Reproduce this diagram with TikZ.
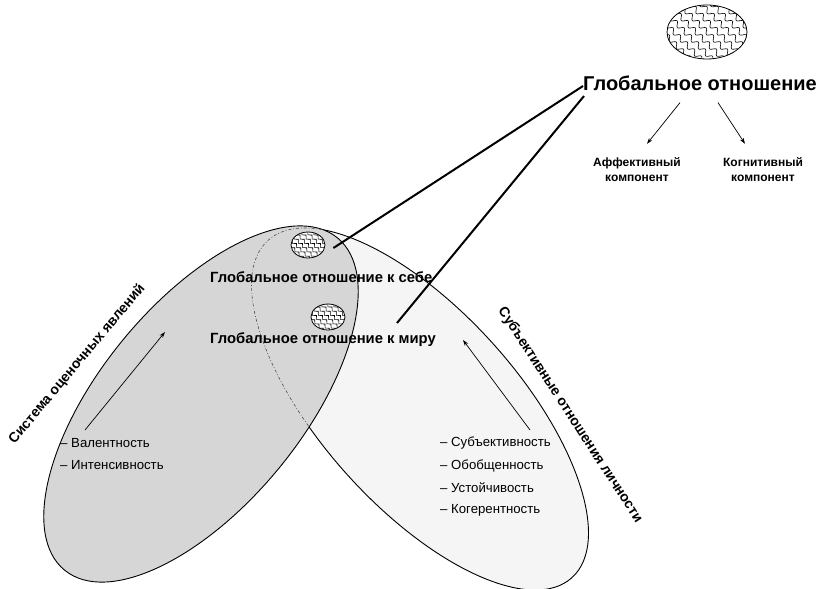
\documentclass[tikz,border=0pt]{standalone}
\usepackage{fontspec}
\setmainfont{Liberation Sans}
\usepackage{tikz}
\usetikzlibrary{arrows.meta}
\usetikzlibrary{shapes.geometric}
\usetikzlibrary{decorations.pathmorphing}

\definecolor{evalfill}{gray}{0.84}
\definecolor{subjfill}{gray}{0.96}

\tikzset{
    ball/.style args = {#1/#2/#3}{draw, line width = 0.8pt, ellipse, fill = white, inner sep = 0pt,
        path picture = {
            \foreach \i in {-9, ..., 9} {
                \draw [line width = 0.6pt, decorate, decoration = {snake, amplitude = #2, segment length = #3}]
                    ([shift = {({\i*#1-40pt}, 40pt)}]path picture bounding box.center) -- ++(80pt, -80pt);
            }
        }},
    headline/.style = {font = \bfseries\fontsize{20}{24}\selectfont, inner sep = 0pt},
    comp/.style = {font = \bfseries\fontsize{12}{15}\selectfont, align = center, inner sep = 0pt},
    globaltext/.style = {font = \bfseries\fontsize{14.8}{17}\selectfont, inner sep = 0pt, anchor = west},
    caption/.style = {font = \bfseries\fontsize{14}{17}\selectfont, inner sep = 0pt},
    item/.style = {font = \fontsize{13.2}{15}\selectfont, inner sep = 0pt, anchor = west},
    link/.style = {line width = 2pt},
    arr/.style = {-{Stealth[length = 6pt, width = 4pt]}, line width = 0.7pt},
    outline/.style = {line width = 0.9pt},
    hidden/.style = {line width = 0.6pt, black!70, dash pattern = on 3pt off 2pt on 0.8pt off 2pt}
}

\begin{document}
\begin{tikzpicture}[x = 1pt, y = -1pt]
    \useasboundingbox (0, 0) rectangle (820, 589);
    \fill [white] (0, 0) rectangle (820, 589);

    \filldraw [outline, fill = subjfill, rotate around = {-48:(420, 409)}] (420, 409) ellipse [x radius = 227, y radius = 98];
    \filldraw [outline, fill = evalfill, rotate around = {50.6:(201, 404)}] (201, 404) ellipse [x radius = 215, y radius = 101];
    \begin{scope}
        \clip [rotate around = {50.6:(201, 404)}] (201, 404) ellipse [x radius = 215, y radius = 101];
        \draw [hidden, rotate around = {-48:(420, 409)}] (420, 409) ellipse [x radius = 227, y radius = 98];
    \end{scope}

    \node [ball = 11pt/2.4pt/10pt, minimum width = 80pt, minimum height = 54pt] (globe) at (707, 32) {};
    \node [headline] (global) at (700, 83) {Глобальное отношение};
    \node [comp] (aff) at (637, 170) {Аффективный\\компонент};
    \node [comp] (cog) at (763, 170) {Когнитивный\\компонент};
    \draw [arr] ([shift = {(-20pt, -12pt)}]global.south) -- ([shift = {(10pt, 14pt)}]aff.north);
    \draw [arr] ([shift = {(18pt, -12pt)}]global.south) -- ([shift = {(-18pt, 14pt)}]cog.north);

    \node [ball = 6pt/1.4pt/6pt, minimum width = 34pt, minimum height = 26pt] (selfball) at (308, 245) {};
    \node [ball = 6pt/1.4pt/6pt, minimum width = 34pt, minimum height = 26pt] (worldball) at (328, 317) {};
    \node [globaltext] (self) at (210, 277) {Глобальное отношение к себе};
    \node [globaltext] (world) at (210, 340) {Глобальное отношение к миру};

    \node [caption, rotate = 50] (evalsys) at (77, 364) {Система оценочных явлений};
    \node [caption, rotate = -57] (subjrel) at (570, 415) {Субъективные отношения личности};

    \foreach \t [count = \k] in {Валентность, Интенсивность} {
        \node [item] (eval\k) at (60, 421 + 22*\k) {-- \t};
    }
    \foreach \t [count = \k] in {Субъективность, Обобщенность, Устойчивость, Когерентность} {
        \node [item] (subj\k) at (440, 421 + 22.3*\k) {-- \t};
    }

    \coordinate (evalfrom) at (85, 430);
    \coordinate (evalto) at (165, 332);
    \coordinate (subjfrom) at (530, 430);
    \coordinate (subjto) at (463, 340);
    \draw [arr] (evalfrom) -- (evalto);
    \draw [arr] (subjfrom) -- (subjto);

    \coordinate (worldend) at (397, 323);
    \draw [link] ([yshift = -3pt]global.west) -- ([xshift = 8pt, yshift = -3pt]selfball.east);
    \draw [link] ([shift = {(1pt, -13pt)}]global.west) -- (worldend);
\end{tikzpicture}
\end{document}
